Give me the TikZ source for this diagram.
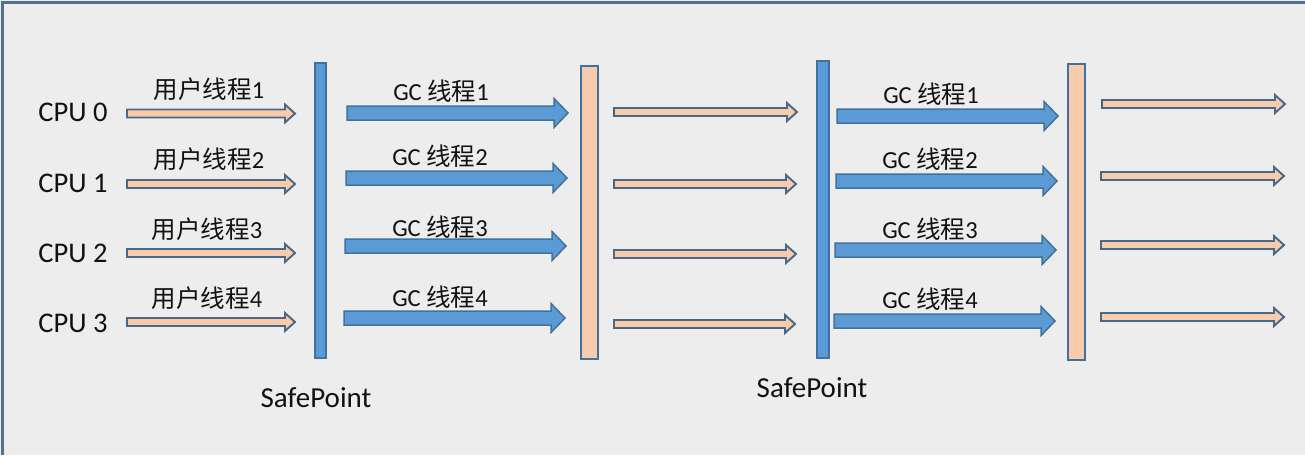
\documentclass[tikz,border=0pt]{standalone}
\usepackage{fontspec}
\setmainfont{Carlito}
\newfontfamily\cjk{Noto Sans CJK SC}
\definecolor{bgc}{HTML}{EDEDED}
\definecolor{framec}{HTML}{52718F}
\definecolor{bluef}{HTML}{5B9BD5}
\definecolor{bluel}{HTML}{41719C}
\definecolor{peachf}{HTML}{F8CBAD}
\definecolor{peachl}{HTML}{4A6786}
\definecolor{txt}{HTML}{111111}
\tikzset{
  userarrow/.style={fill=peachf, draw=peachl, line width=1.9pt, line join=miter},
  gcarrow/.style={fill=bluef, draw=bluel, line width=1.5pt, line join=miter},
  bluebar/.style={fill=bluef, draw=bluel, line width=1.5pt},
  peachbar/.style={fill=peachf, draw=bluel, line width=1.5pt},
  cpulabel/.style={font=\fontsize{28.5}{30}\selectfont, text=txt, inner sep=0pt},
  thlabel/.style={font=\fontsize{24.5}{26}\selectfont, text=txt, inner sep=0pt},
  splabel/.style={font=\fontsize{29}{30}\selectfont, text=txt, inner sep=0pt}
}
% \blockarrow{style}{x1}{x2}{y}{shaft half}{head half}{head length}
\newcommand{\blockarrow}[7]{%
  \draw[#1] (#2,#4-#5) -- (#3-#7,#4-#5) -- (#3-#7,#4-#6) -- (#3,#4)
    -- (#3-#7,#4+#6) -- (#3-#7,#4+#5) -- (#2,#4+#5) -- cycle;}
\begin{document}
\begin{tikzpicture}[x=1pt,y=-1pt]
\useasboundingbox (0,0) rectangle (1305,455);
\fill[bgc] (0,0) rectangle (1305,455);
\draw[framec, line width=3pt] (1305,2.5) -- (2.5,2.5) -- (2.5,455);

% CPU labels
\node[cpulabel] (cpu0) at (73,112) {CPU 0};
\node[cpulabel] (cpu1) at (73,183) {CPU 1};
\node[cpulabel] (cpu2) at (73,253) {CPU 2};
\node[cpulabel] (cpu3) at (73,323) {CPU 3};

% user thread arrows (column A)
\blockarrow{userarrow}{127}{295}{113.5}{4}{9}{10}
\blockarrow{userarrow}{127}{295}{184}{4}{9}{10}
\blockarrow{userarrow}{127}{295}{253}{4}{9}{10}
\blockarrow{userarrow}{127}{295}{322}{4}{9}{10}
\node[thlabel] (u1) at (209,89) {{\cjk 用户线程}1};
\node[thlabel] (u2) at (209,159) {{\cjk 用户线程}2};
\node[thlabel] (u3) at (207,229) {{\cjk 用户线程}3};
\node[thlabel] (u4) at (207,298) {{\cjk 用户线程}4};

% bar 1 (blue)
\draw[bluebar] (315,63) rectangle (326,358);
\node[splabel] (sp1) at (316,398) {SafePoint};

% GC arrows column 1
\blockarrow{gcarrow}{347}{568}{113}{7}{14.5}{14}
\blockarrow{gcarrow}{346}{567}{178}{7}{14.5}{14}
\blockarrow{gcarrow}{345}{566}{246}{7}{14.5}{14}
\blockarrow{gcarrow}{344}{565}{318}{7}{14.5}{14}
\node[thlabel] (g1) at (441,91) {GC {\cjk 线程}1};
\node[thlabel] (g2) at (440,156) {GC {\cjk 线程}2};
\node[thlabel] (g3) at (440,227) {GC {\cjk 线程}3};
\node[thlabel] (g4) at (440,297) {GC {\cjk 线程}4};

% bar 2 (peach)
\draw[peachbar] (581,66) rectangle (598,359);

% peach arrows column 2
\blockarrow{userarrow}{614}{797}{112}{4}{9}{10}
\blockarrow{userarrow}{614}{796}{184}{4}{9}{10}
\blockarrow{userarrow}{614}{796}{254}{4}{9}{10}
\blockarrow{userarrow}{614}{795}{324}{4}{9}{10}

% bar 3 (blue)
\draw[bluebar] (817,61) rectangle (829,358);
\node[splabel] (sp2) at (812,388) {SafePoint};

% GC arrows column 2
\blockarrow{gcarrow}{837}{1058}{116}{7}{14.5}{14}
\blockarrow{gcarrow}{836}{1057}{181}{7}{14.5}{14}
\blockarrow{gcarrow}{835}{1056}{250}{7}{14.5}{14}
\blockarrow{gcarrow}{834}{1055}{321}{7}{14.5}{14}
\node[thlabel] (h1) at (931,94) {GC {\cjk 线程}1};
\node[thlabel] (h2) at (930,159) {GC {\cjk 线程}2};
\node[thlabel] (h3) at (930,229) {GC {\cjk 线程}3};
\node[thlabel] (h4) at (930,299) {GC {\cjk 线程}4};

% bar 4 (peach)
\draw[peachbar] (1068,64) rectangle (1085,360);

% peach arrows column 3
\blockarrow{userarrow}{1102}{1285}{104}{4}{9}{10}
\blockarrow{userarrow}{1101}{1284}{176}{4}{9}{10}
\blockarrow{userarrow}{1101}{1284}{245}{4}{9}{10}
\blockarrow{userarrow}{1101}{1284}{317}{4}{9}{10}
\end{tikzpicture}
\end{document}
